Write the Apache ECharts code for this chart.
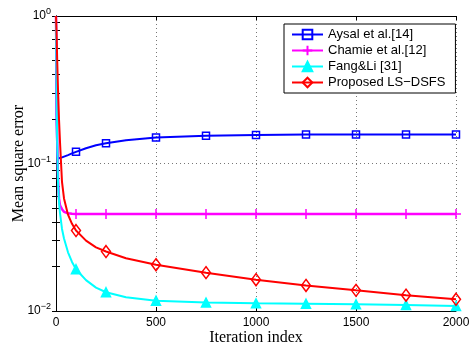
<!DOCTYPE html>
<html>
<head>
<meta charset="utf-8">
<script src="https://cdn.jsdelivr.net/npm/echarts@6/dist/echarts.min.js"></script>
<style>
  html, body { margin: 0; padding: 0; background: #fff; }
  #chart { width: 470px; height: 343px; }
</style>
</head>
<body>
<div id="chart"></div>
<script>
// iteration index samples
const iters = [0, 3, 6, 10, 15, 20, 30, 40, 60, 80, 100, 150, 200, 250, 350, 500, 750, 1000, 1250, 1500, 1750, 2000];
// where the markers sit
const markerIters = [100, 250, 500, 750, 1000, 1250, 1500, 1750, 2000];

const aysal   = [1, 0.2, 0.115, 0.108, 0.108, 0.109, 0.110, 0.111, 0.114, 0.117, 0.120, 0.127, 0.133, 0.137, 0.144, 0.150, 0.154, 0.156, 0.157, 0.157, 0.157, 0.157];
const chamie  = [1, 0.35, 0.15, 0.08, 0.058, 0.052, 0.049, 0.047, 0.046, 0.0456, 0.0455, 0.0455, 0.0455, 0.0455, 0.0455, 0.0455, 0.0455, 0.0455, 0.0455, 0.0455, 0.0455, 0.0455];
const fangLi  = [1, 0.3, 0.14, 0.075, 0.055, 0.046, 0.036, 0.031, 0.025, 0.0215, 0.0192, 0.0162, 0.0144, 0.0134, 0.0124, 0.01175, 0.0114, 0.01127, 0.0112, 0.0111, 0.011, 0.0108];
const lsDsfs  = [1, 0.75, 0.5, 0.32, 0.2, 0.14, 0.075, 0.058, 0.045, 0.039, 0.0351, 0.030, 0.027, 0.0253, 0.0228, 0.0206, 0.0182, 0.0163, 0.0149, 0.0138, 0.0128, 0.0120];

const names = ['Aysal et al.[14]', 'Chamie et al.[12]', 'Fang&Li [31]', 'Proposed LS\u2212DSFS'];

const yMajor = [0.01, 0.1, 1];
let yMinor = [];
[0.01, 0.1].forEach(d => { for (let k = 1; k <= 9; k++) yMinor.push(+(d * k).toPrecision(3)); });
yMinor.push(1);

function pts(vals) {
  return iters.map((x, i) => ({
    value: [x, vals[i]],
    symbol: markerIters.includes(x) ? undefined : 'none'
  }));
}

const chart = echarts.init(document.getElementById('chart'));

const sansFont = '"Liberation Sans", Arial, sans-serif';
const serifFont = '"Liberation Serif", "DejaVu Serif", serif';
const dotted = { show: true, lineStyle: { color: '#777', width: 1, type: [1, 3] } };

function yAxisBase(pos, labels) {
  return {
    type: 'log',
    logBase: 10,
    min: 0.01,
    max: 1,
    position: pos,
    axisLine: { show: true, lineStyle: { color: '#000', width: 1 } },
    axisTick: { show: true, inside: true, length: 4, customValues: yMinor, lineStyle: { color: '#000' } },
    axisLabel: labels ? {
      show: true,
      customValues: yMajor,
      margin: 5,
      color: '#000',
      fontFamily: sansFont,
      fontSize: 12,
      formatter: v => {
        const e = Math.round(Math.log10(v));
        return '10{sup|' + (e < 0 ? '\u2212' + (-e) : e) + '}';
      },
      rich: { sup: { fontSize: 9, fontFamily: sansFont, color: '#000', padding: [0, 0, 8, 0] } }
    } : { show: false },
    splitLine: { show: false }
  };
}

// hidden log axis that only draws the dotted decade grid
const yGrid = {
  type: 'log',
  logBase: 10,
  min: 0.01,
  max: 1,
  position: 'left',
  axisLine: { show: false },
  axisTick: { show: false },
  axisLabel: { show: false },
  splitLine: dotted
};

function xAxisBase(pos, labels) {
  return {
    type: 'value',
    min: 0,
    max: 2000,
    interval: 500,
    position: pos,
    axisLine: { show: true, onZero: false, lineStyle: { color: '#000', width: 1 } },
    axisTick: { show: true, inside: true, length: 4, lineStyle: { color: '#000' } },
    axisLabel: labels ? { show: true, margin: 6, color: '#000', fontFamily: sansFont, fontSize: 12, formatter: v => String(v) } : { show: false },
    splitLine: labels ? dotted : { show: false }
  };
}

const xMain = xAxisBase('bottom', true);
xMain.name = 'Iteration index';
xMain.nameLocation = 'middle';
xMain.nameGap = 19;
xMain.nameMoveOverlap = false;
xMain.nameTextStyle = { color: '#000', fontFamily: serifFont, fontSize: 16 };

const yMain = yAxisBase('left', true);
yMain.name = 'Mean square error';
yMain.nameLocation = 'middle';
yMain.nameGap = 29;
yMain.nameRotate = 90;
yMain.nameMoveOverlap = false;
yMain.nameTextStyle = { color: '#000', fontFamily: serifFont, fontSize: 16 };

function lineSeries(i, vals, color, symbol, size, filled, width) {
  return {
    name: names[i],
    type: 'line',
    data: pts(vals),
    symbol: symbol,
    symbolSize: size,
    showAllSymbol: true,
    lineStyle: { color: color, width: width },
    itemStyle: {
      color: filled ? color : 'rgba(255,255,255,0)',
      borderColor: color,
      borderWidth: 1.5
    },
    emphasis: { disabled: true },
    animation: false,
    z: 2 + i
  };
}

chart.setOption({
  animation: false,
  backgroundColor: '#fff',
  grid: { left: 56, right: 14, top: 16, bottom: 32, containLabel: false, outerBoundsMode: 'none' },
  legend: {
    orient: 'vertical',
    left: 284,
    top: 24,
    itemWidth: 31,
    itemHeight: 12,
    itemGap: 3,
    padding: [4, 10, 4, 7],
    backgroundColor: '#fff',
    borderColor: '#000',
    borderWidth: 1,
    textStyle: { color: '#000', fontFamily: sansFont, fontSize: 13 },
    data: names
  },
  xAxis: [xMain, xAxisBase('top', false)],
  yAxis: [yMain, yAxisBase('right', false), yGrid],
  series: [
    lineSeries(0, aysal, '#0000ff', 'rect', 7, false, 2),
    lineSeries(1, chamie, '#ff00ff', 'path://M0,-5L0,5M-5,0L5,0', 10, false, 2.5),
    lineSeries(2, fangLi, '#00ffff', 'triangle', 9, true, 2),
    lineSeries(3, lsDsfs, '#ff0000', 'diamond', [9, 12], false, 2)
  ]
});
</script>
</body>
</html>
